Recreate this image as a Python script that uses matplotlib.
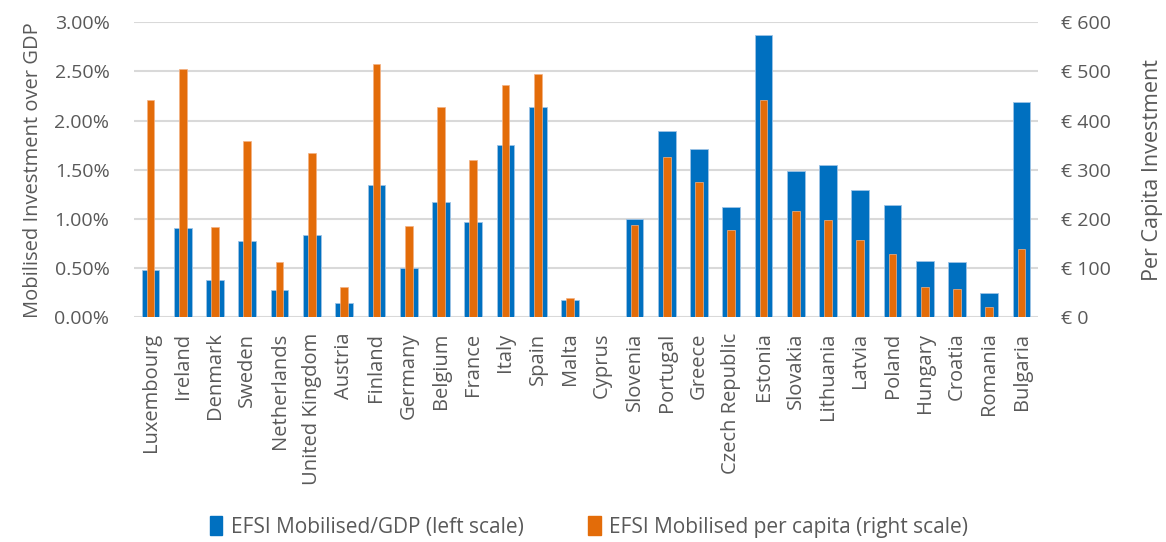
import numpy as np
import matplotlib.pyplot as plt
from matplotlib.ticker import FuncFormatter
from matplotlib.patches import Patch

countries = ['Luxembourg', 'Ireland', 'Denmark', 'Sweden', 'Netherlands', 'United Kingdom',
             'Austria', 'Finland', 'Germany', 'Belgium', 'France', 'Italy', 'Spain', 'Malta',
             'Cyprus', 'Slovenia', 'Portugal', 'Greece', 'Czech Republic', 'Estonia', 'Slovakia',
             'Lithuania', 'Latvia', 'Poland', 'Hungary', 'Croatia', 'Romania', 'Bulgaria']

# EFSI mobilised investment as % of GDP (left axis)
gdp_share = [0.48, 0.91, 0.38, 0.78, 0.28, 0.84, 0.15, 1.35, 0.50, 1.17, 0.97, 1.75, 2.14, 0.18,
             0.0, 1.00, 1.89, 1.71, 1.12, 2.87, 1.49, 1.55, 1.29, 1.14, 0.57, 0.56, 0.25, 2.19]
# EFSI mobilised investment per capita in EUR (right axis)
per_capita = [442, 505, 184, 358, 113, 335, 62, 515, 186, 428, 319, 472, 494, 39,
              0, 187, 327, 276, 178, 442, 216, 198, 158, 128, 62, 58, 20, 138]

blue = '#0070C0'
orange = '#E36C09'
grey = '#595959'
grid = '#D9D9D9'

plt.rcParams['font.family'] = ['Open Sans', 'DejaVu Sans']

fig = plt.figure(figsize=(11.66, 5.42), dpi=100)
ax = fig.add_axes([0.1153, 0.4146, 0.7747, 0.5443])
ax2 = ax.twinx()

x = np.arange(len(countries))
ax.bar(x, gdp_share, width=0.55, color=blue, edgecolor='#9DC3E6', linewidth=0.6, zorder=3)
ax2.bar(x, per_capita, width=0.24, color=orange, edgecolor='#F4B183', linewidth=0.5, zorder=3)

ax.set_xlim(-0.5, len(countries) - 0.5)
ax.set_ylim(0, 3.0)
ax2.set_ylim(0, 600)
ax.set_yticks(np.arange(0, 3.01, 0.5))
ax2.set_yticks(np.arange(0, 601, 100))
ax.yaxis.set_major_formatter(FuncFormatter(lambda v, p: f'{v:.2f}%'))
ax2.yaxis.set_major_formatter(FuncFormatter(lambda v, p: f'€ {v:.0f}'))

ax.yaxis.grid(True, color=grid, linewidth=1.5, zorder=0)
ax.set_axisbelow(True)

ax.set_xticks(x)
ax.set_xticklabels(countries, rotation=90, fontsize=14.5, color=grey)

for a in (ax, ax2):
    for s in a.spines.values():
        s.set_visible(False)
    a.tick_params(length=0)
ax.tick_params(axis='y', labelsize=14, labelcolor=grey, pad=18)
ax.tick_params(axis='x', pad=11)
ax2.tick_params(axis='y', labelsize=14, labelcolor=grey, pad=17)

ax.set_ylabel('Mobilised Investment over GDP', fontsize=14.5, color=grey, labelpad=8)
ax2.set_ylabel('Per Capita Investment', fontsize=15.5, color=grey, labelpad=22)

handles = [Patch(color=blue), Patch(color=orange)]
labels = ['EFSI Mobilised/GDP (left scale)', 'EFSI Mobilised per capita (right scale)']
fig.legend(handles, labels, loc='center', bbox_to_anchor=(0.505, 0.028), ncol=2,
           frameon=False, fontsize=15, labelcolor=grey, handlelength=0.6, handleheight=1.0,
           handletextpad=0.4, columnspacing=3.1)

fig.savefig('out.png', dpi=100)
